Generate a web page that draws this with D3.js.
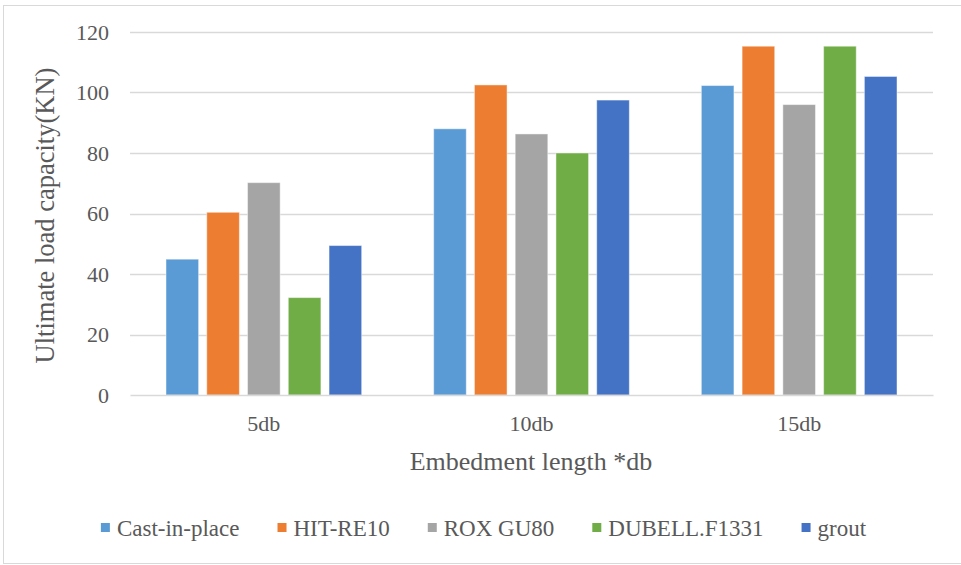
<!DOCTYPE html>
<html>
<head>
<meta charset="utf-8">
<script src="https://cdn.jsdelivr.net/npm/d3@7/dist/d3.min.js"></script>
<style>
  html, body { margin: 0; padding: 0; background: #fff; }
  svg { display: block; }
  text { font-family: "Liberation Serif", "Times New Roman", serif; fill: #595959; }
</style>
</head>
<body>
<svg id="chart" width="961" height="565"></svg>
<script>
const categories = ["5db", "10db", "15db"];
const seriesNames = ["Cast-in-place", "HIT-RE10", "ROX GU80", "DUBELL.F1331", "grout"];
const seriesColors = ["#5B9BD5", "#ED7D31", "#A5A5A5", "#70AD47", "#4472C4"];
const castInPlace = [44.9, 88.0, 102.3];
const hitRE10 = [60.4, 102.5, 115.3];
const roxGU80 = [70.2, 86.3, 96.0];
const dubellF1331 = [32.2, 80.0, 115.3];
const grout = [49.4, 97.5, 105.3];
const yTicks = [0, 20, 40, 60, 80, 100, 120];
const yTitle = "Ultimate load capacity(KN)";
const xTitle = "Embedment length *db";

const seriesValues = [castInPlace, hitRE10, roxGU80, dubellF1331, grout];

const svg = d3.select("#chart");

// outer border
svg.append("rect").attr("x", 3.5).attr("y", 5.5).attr("width", 960).attr("height", 558)
  .attr("fill", "none").attr("stroke", "#d9d9d9").attr("stroke-width", 1);

const plot = { left: 130, right: 933, top: 32, bottom: 395 };

const y = d3.scaleLinear().domain([0, 120]).range([plot.bottom, plot.top]);
const x0 = d3.scaleBand().domain(categories).range([plot.left, plot.right]).padding(0);
const inset = x0.bandwidth() * 0.1345;
const x1 = d3.scaleBand().domain(seriesNames).range([inset, x0.bandwidth() - inset]).paddingInner(0.2).paddingOuter(0);

// gridlines
const grid = svg.append("g").attr("class", "grid");
grid.selectAll("line").data(yTicks.filter(t => t > 0)).join("line")
  .attr("x1", plot.left).attr("x2", plot.right)
  .attr("y1", d => Math.round(y(d)) + 0.5).attr("y2", d => Math.round(y(d)) + 0.5)
  .attr("stroke", "#d9d9d9").attr("stroke-width", 1.5);

// y axis labels
const yAxis = d3.axisLeft(y).tickValues(yTicks).tickSize(0).tickPadding(0);
const yG = svg.append("g").attr("transform", `translate(${109},0)`).call(yAxis);
yG.select(".domain").remove();
yG.selectAll("text").attr("font-size", 22).attr("fill", "#595959")
  .style("font-family", '"Liberation Serif", serif').attr("dy", "0.34em");

// bars
const groups = svg.append("g").selectAll("g").data(categories).join("g")
  .attr("transform", d => `translate(${x0(d)},0)`);
groups.selectAll("rect").data((c, ci) => seriesNames.map((s, si) => ({ s, si, v: seriesValues[si][ci] })))
  .join("rect")
  .attr("x", d => x1(d.s))
  .attr("width", x1.bandwidth())
  .attr("y", d => y(d.v))
  .attr("height", d => y(0) - y(d.v))
  .attr("fill", d => seriesColors[d.si])
  .attr("stroke", "#ffffff").attr("stroke-opacity", 0.45).attr("stroke-width", 1);

// x axis line
const xAxis = d3.axisBottom(x0).tickSize(0).tickPadding(0);
const xG = svg.append("g").attr("transform", `translate(0,${plot.bottom})`).call(xAxis);
xG.select(".domain").attr("stroke", "#d9d9d9").attr("stroke-width", 1.5);
xG.selectAll("text").attr("font-size", 22).attr("fill", "#595959")
  .style("font-family", '"Liberation Serif", serif').attr("y", 36).attr("dy", 0);

// axis titles
svg.append("text").attr("x", 531).attr("y", 470).attr("text-anchor", "middle")
  .attr("font-size", 26).text(xTitle);
svg.append("text").attr("transform", `translate(54,${(plot.top + plot.bottom) / 2 + 2}) rotate(-90)`)
  .attr("text-anchor", "middle").attr("font-size", 26.5).text(yTitle);

// legend
const legend = svg.append("g");
const items = legend.selectAll("g").data(seriesNames).join("g");
items.append("rect").attr("x", 0).attr("y", -5).attr("width", 9).attr("height", 9)
  .attr("fill", (d, i) => seriesColors[i]);
items.append("text").attr("x", 16).attr("y", 0).attr("dy", "0.34em")
  .attr("font-size", 23).text(d => d);
const widths = [];
items.each(function() {
  widths.push(d3.select(this).select("text").node().getComputedTextLength());
});
const gap = 38;
const total = widths.reduce((a, w) => a + 16 + w, 0) + gap * (widths.length - 1);
let cx = 483.5 - total / 2;
items.attr("transform", (d, i) => {
  const t = `translate(${cx},528)`;
  cx += 16 + widths[i] + gap;
  return t;
});
</script>
</body>
</html>
